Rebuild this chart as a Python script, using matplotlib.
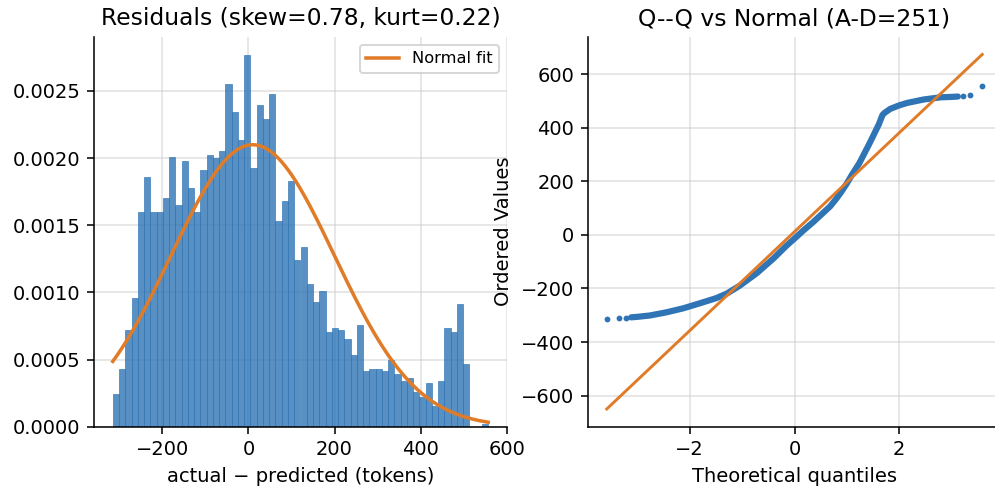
import numpy as np
import matplotlib
matplotlib.use("Agg")
import matplotlib.pyplot as plt

# residual histogram (density), 60 equal bins between min and max residual
res_min = -315
res_max = 557
hist_density = [
    0.000244, 0.000430, 0.000721, 0.000960, 0.001602, 0.001856, 0.001602, 0.001602,
    0.001706, 0.002012, 0.001654, 0.001975, 0.001774, 0.001602, 0.001908, 0.002027,
    0.001998, 0.002050, 0.002550, 0.002341, 0.002132, 0.002766, 0.001930, 0.002393,
    0.002289, 0.002475, 0.001535, 0.001684, 0.001826, 0.001239, 0.001341, 0.001065,
    0.000930, 0.001012, 0.000706, 0.000736, 0.000721, 0.000654, 0.000535, 0.000759,
    0.000415, 0.000430, 0.000430, 0.000415, 0.000498, 0.000393, 0.000341, 0.000363,
    0.000259, 0.000221, 0.000326, 0.000154, 0.000341, 0.000736, 0.000706, 0.000915,
    0.000468, 0.0, 0.0, 0.000020,
]
fit_mu = 10
fit_sigma = 190

# Q-Q plot: theoretical quantile -> ordered value
qq_band_q = [-3.12, -3.0, -2.76, -2.44, -2.12, -1.80, -1.49, -1.29, -1.04, -0.72,
             -0.40, -0.15, 0.0, 0.18, 0.36, 0.52, 0.68, 0.80, 0.90, 1.00, 1.10,
             1.24, 1.43, 1.61, 1.68, 1.72, 1.83, 2.0, 2.15, 2.47, 2.79, 3.05, 3.12]
qq_band_v = [-308, -306, -301, -289, -274, -255, -236, -219, -189, -143,
             -88, -40, -14, 18, 48, 77, 106, 135, 162, 192, 225,
             268, 340, 412, 447, 455, 470, 483, 492, 505, 513, 515, 516]
qq_tail_q = [-3.585, -3.35, -3.21, 3.21, 3.35, 3.585]
qq_tail_v = [-314, -311, -309, 518, 520, 557]
qq_slope = 184.5
qq_intercept = 11.6

blue = '#2f74b5'
orange = '#e07b28'

fig = plt.figure(figsize=(995 / 140, 490 / 140), dpi=140)
ax1 = fig.add_axes([94 / 995, 63.3 / 490, 413 / 995, 390 / 490])
ax2 = fig.add_axes([588 / 995, 63.3 / 490, 413 / 995, 390 / 490])

# histogram
edges = np.linspace(res_min, res_max, len(hist_density) + 1)
ax1.bar(edges[:-1], hist_density, width=np.diff(edges), align='edge',
        color=blue, alpha=0.8, edgecolor=blue, linewidth=0.4)
xs = np.linspace(res_min, res_max, 300)
pdf = np.exp(-0.5 * ((xs - fit_mu) / fit_sigma) ** 2) / (fit_sigma * np.sqrt(2 * np.pi))
ax1.plot(xs, pdf, color=orange, lw=1.8, label='Normal fit')
ax1.set_title('Residuals (skew=0.78, kurt=0.22)', fontsize=12)
ax1.set_xlabel('actual \u2212 predicted (tokens)')
ax1.set_xticks([-200, 0, 200, 400, 600])
ax1.legend(loc='upper right', fontsize='small')

# Q-Q plot
ax2.plot(qq_band_q, qq_band_v, color=blue, lw=3.2, solid_capstyle='round',
         solid_joinstyle='round')
ax2.plot(qq_tail_q, qq_tail_v, 'o', color=blue, ms=3.0, mew=0)
q_ends = np.array([min(qq_tail_q), max(qq_tail_q)])
ax2.plot(q_ends, qq_slope * q_ends + qq_intercept, color=orange, lw=1.5)
ax2.set_title('Q--Q vs Normal (A-D=251)', fontsize=12)
ax2.set_xlabel('Theoretical quantiles')
ax2.set_ylabel('Ordered Values')
ax2.set_xticks([-2, 0, 2])
ax2.set_yticks([-600, -400, -200, 0, 200, 400, 600])

for ax in (ax1, ax2):
    ax.grid(True, color='#cccccc', alpha=0.6, lw=0.8)
    ax.set_axisbelow(True)
    ax.spines['top'].set_visible(False)
    ax.spines['right'].set_visible(False)

fig.savefig('out.png', dpi=140)
